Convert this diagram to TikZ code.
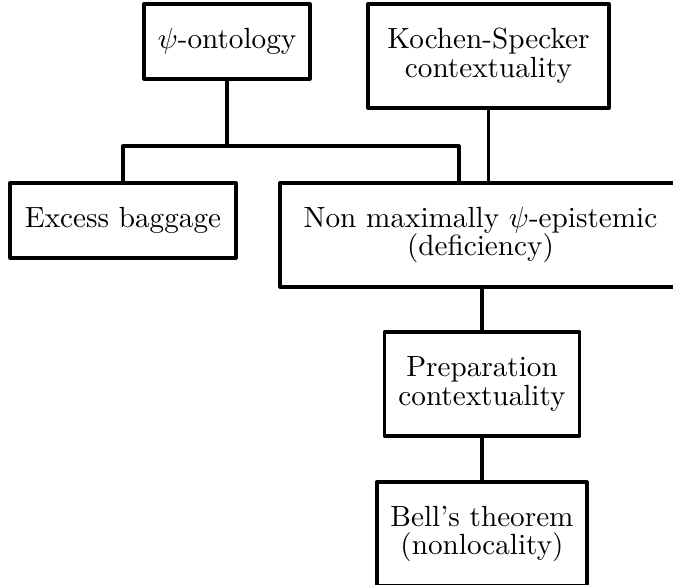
\documentclass[tikz,border=0pt]{standalone}
\begin{document}
\begin{tikzpicture}[x=0.3425pt,y=-0.3425pt,
  box/.style={draw, line width=1.1pt, rectangle, align=center, inner sep=0pt,
    font=\fontsize{10}{9.9}\selectfont, line join=round},
  conn/.style={line width=1.1pt}]
\useasboundingbox (0,0) rectangle (673,585);
\clip (0,0) rectangle (673,585);
\node[box, minimum width=56.86pt, minimum height=25.69pt] (psi) at (227,41.5) {$\psi$-ontology};
\node[box, minimum width=82.54pt, minimum height=35.62pt] (ks) at (488.5,56) {Kochen-Specker\\contextuality};
\node[box, minimum width=77.41pt, minimum height=25.69pt] (exc) at (123,220.5) {Excess baggage};
\node[box, minimum width=137.34pt, minimum height=35.62pt] (nm) at (480.5,235) {Non maximally $\psi$-epistemic\\(deficiency)};
\node[box, minimum width=66.79pt, minimum height=35.62pt] (prep) at (482,384) {Preparation\\contextuality};
\node[box, minimum width=71.93pt, minimum height=35.62pt] (bell) at (482,534) {Bell's theorem\\(nonlocality)};
\coordinate (jm) at (227,146);
\coordinate (jl) at (123,146);
\coordinate (jr) at (459,146);
\draw[conn] (psi.south) -- (jm);
\draw[conn, line join=round] (exc.north) -- (jl) -- (jr) -- (jr |- nm.north);
\draw[conn] (ks.south) -- (ks.south |- nm.north);
\draw[conn] (prep.north |- nm.south) -- (prep.north);
\draw[conn] (prep.south) -- (prep.south |- bell.north);
\end{tikzpicture}
\end{document}
